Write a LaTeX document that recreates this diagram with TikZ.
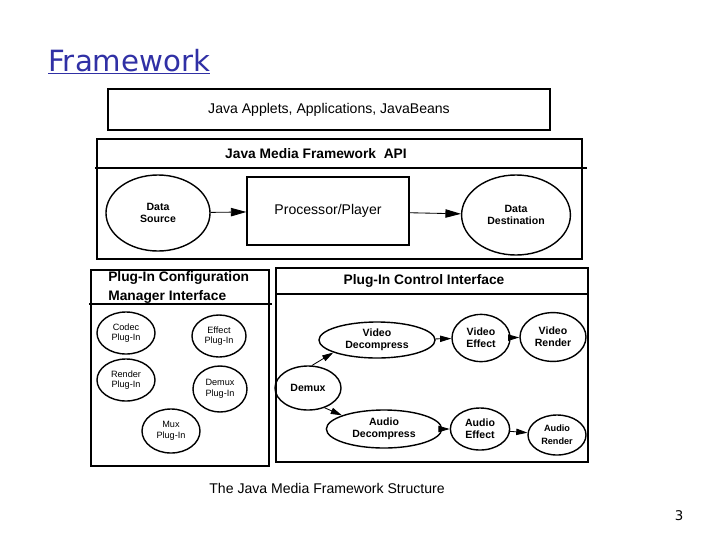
\documentclass[tikz,border=0pt]{standalone}
\usepackage{fontspec}
\setmainfont{Liberation Sans}
\newfontfamily\slidefont{DejaVu Sans}
\usetikzlibrary{arrows.meta,shapes}
\definecolor{titleblue}{RGB}{48,48,165}
\tikzstyle{frame}=[draw,line width=0.9pt]
\tikzstyle{bubble}=[ellipse,draw,line width=1pt,inner sep=0pt,align=center,font=\fontsize{7.5}{8.5}\selectfont\bfseries]
\tikzstyle{smallbubble}=[bubble,font=\fontsize{6.5}{7.5}\selectfont]
\tikzstyle{edge}=[draw,line width=0.6pt,-{Triangle[length=8pt,width=4.5pt]}]
\tikzstyle{bigedge}=[draw,line width=0.6pt,-{Triangle[length=11pt,width=6pt]}]
\tikzstyle{heading}=[font=\fontsize{9.8}{13.5}\selectfont\bfseries]
\tikzstyle{plain}=[font=\fontsize{10}{12}\selectfont]

\begin{document}
\begin{tikzpicture}[x=0.025cm,y=-0.025cm]
    \useasboundingbox (0,0) rectangle (720,540);

    \node[anchor=base west,inner sep=0pt,text=titleblue,font=\slidefont\fontsize{20.8}{24}\selectfont] (title) at (48,71) {\underline{Framework}};

    % applications and the API layer
    \draw[frame] (108,89) rectangle (550,130);
    \node[plain] (apps) at (329,110) {Java Applets, Applications, JavaBeans};

    \draw[frame] (97,139) rectangle (582,259);
    \draw[frame] (95,168) -- (587,168);
    \node[heading] (api) at (316,154) {Java Media Framework\ \ API};

    \node[bubble,minimum width=2.6cm,minimum height=1.9cm] (src) at (158,213) {Data\\Source};
    \node[frame,plain,minimum width=4.05cm,minimum height=1.7cm] (player) at (328,211) {Processor/Player};
    \node[bubble,minimum width=2.72cm,minimum height=2.0cm] (dst) at (516,215) {Data\\Destination};

    \path[bigedge] (src) -- (player);
    \path[bigedge] (player) -- (dst);

    % configuration manager
    \draw[frame] (91,270) rectangle (269,466);
    \draw[frame] (89,304) -- (272,304);
    \node[heading,anchor=north west,align=left,inner sep=0pt] (cfg) at (108,271) {Plug-In Configuration\\Manager Interface};

    \foreach \pos/\name/\txt/\w/\h in {(126,333)/codec/Codec/1.45/1.05, (219,336)/effect/Effect/1.35/1.05,
        (126,380)/render/Render/1.45/1.05, (220,389)/demuxplug/Demux/1.35/1.15, (171,431)/mux/Mux/1.45/1.1}
        \node[smallbubble,minimum width=\w cm,minimum height=\h cm] (\name) at \pos {\txt\\Plug-In};

    % control interface
    \draw[frame] (276,268) rectangle (588,462);
    \draw[frame] (276,294) -- (588,294);
    \node[heading] (ctl) at (424,281) {Plug-In Control Interface};

    \foreach \pos/\name/\txt/\w/\h in {(377,340)/vdec/Video\\Decompress/2.9/0.9, (481,338)/veff/Video\\Effect/1.45/1.18,
        (553,337)/vren/Video\\Render/1.65/1.22, (308,388)/demux/Demux/1.65/1.1,
        (384,429)/adec/Audio\\Decompress/2.88/0.95, (480,429)/aeff/Audio\\Effect/1.48/1.05}
        \node[bubble,minimum width=\w cm,minimum height=\h cm] (\name) at \pos {\txt};
    \node[smallbubble,font=\fontsize{6.5}{9}\selectfont\bfseries,minimum width=1.45cm,minimum height=1.0cm] (aren) at (557,435) {Audio\\Render};

    \path[edge] (demux.80) -- (vdec.196);
    \path[edge] (demux.-50) -- (adec.162);
    \foreach \source/\dest in {vdec/veff, veff/vren, adec/aeff, aeff/aren}
        \path[edge] (\source) -- (\dest);

    \node[plain] (caption) at (327,488) {The Java Media Framework Structure};
    \node[font=\slidefont\fontsize{9.5}{11}\selectfont] (page) at (679,516) {3};
\end{tikzpicture}
\end{document}
